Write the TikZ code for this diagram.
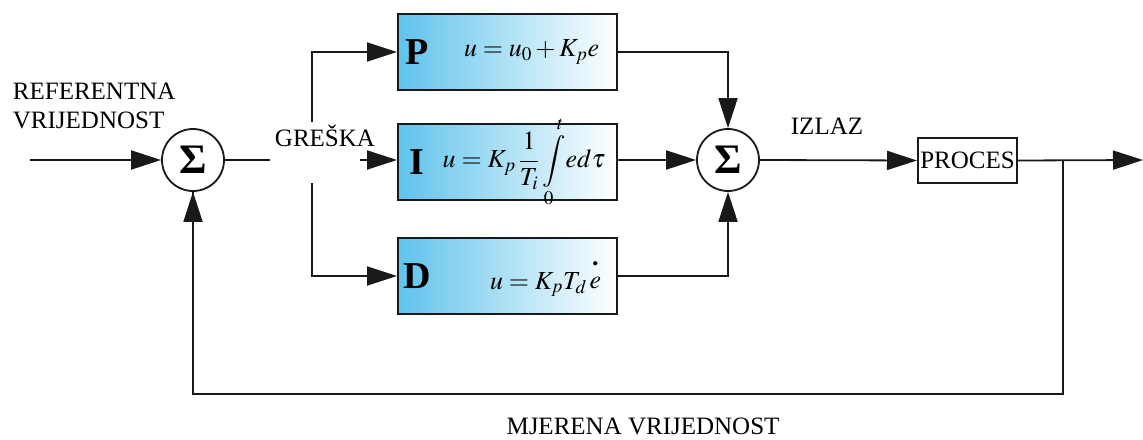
\documentclass[tikz,border=0pt]{standalone}
\usepackage{mathptmx}
\usepackage{fontspec}
\setmainfont{Liberation Serif}
\usetikzlibrary{arrows.meta}
\definecolor{boxblue}{RGB}{95,195,235}
\definecolor{linec}{RGB}{25,25,25}
\begin{document}
\begin{tikzpicture}[x=1pt,y=-1pt,line width=1.8pt,
  arr/.style={-{Triangle[length=30pt,width=19pt]}},
  sumnode/.style={circle,draw=linec,line width=1.8pt,minimum size=62pt,inner sep=0pt,
    font=\fontsize{42}{42}\selectfont\bfseries},
  ctrl/.style={draw=linec,line width=2pt,minimum width=219pt,minimum height=76pt,
    inner sep=0pt,left color=boxblue,right color=white},
  letter/.style={font=\fontsize{38}{40}\selectfont\bfseries,inner sep=0pt,anchor=west},
  formula/.style={font=\fontsize{26}{30}\selectfont,inner sep=0pt,anchor=east},
  lbl/.style={font=\fontsize{25}{30}\selectfont,inner sep=0pt},
  procbox/.style={draw=linec,line width=2pt,minimum width=99pt,minimum height=45pt,inner sep=0pt,
    font=\fontsize{25}{30}\selectfont}]
\useasboundingbox (0,0) rectangle (1143,439);
% nodes
\node[sumnode] (s1) at (193,160) {Σ};
\node[sumnode] (s2) at (728,160) {Σ};
\node[ctrl] (P) at (507.5,52) {};
\node[ctrl] (I) at (507.5,162) {};
\node[ctrl] (D) at (507.5,276) {};
\node[procbox] (proc) at (967.5,160.5) {PROCES};
% box contents
\node[letter] (Pl) at (405,52) {P};
\node[formula] (Pf) at (600,52) {$u = u_0 + K_p e$};
\node[letter] (Il) at (409,162) {I};
\node[formula] (If) at (606,162) {$\displaystyle u = K_p\,\frac{1}{T_i}\int\limits_0^{\,t}\! e d\tau$};
\node[letter] (Dl) at (403,276) {D};
\node[formula] (Df) at (602,278) {$u = K_pT_d\,{\stackrel{\raisebox{6pt}{\textbf{.}}}{e}}$};
% labels
\node[lbl,anchor=west] (ref1) at (12,91) {REFERENTNA};
\node[lbl,anchor=west] (ref2) at (12,120) {VRIJEDNOST};
\node[lbl] (gr) at (325,136) {GREŠKA};
\node[lbl] (iz) at (827,126) {IZLAZ};
\node[lbl,anchor=base] (mj) at (643,434) {MJERENA VRIJEDNOST};
% coordinates
\coordinate (in) at (30,160);
\coordinate (g1) at (270,160);
\coordinate (gt) at (312,122);
\coordinate (gb) at (312,183);
\coordinate (ia) at (360,160);
\coordinate (out) at (1143,160);
\coordinate (br) at (1063,160);
\coordinate (fb) at (1063,394);
% connectors
\begin{scope}[draw=linec]
\draw[arr] (in) -- (s1.west);
\draw (s1.east) -- (g1);
\draw[arr] (gt) |- (P.west);
\draw[arr] (gb) |- (D.west);
\draw[arr] (ia) -- (ia -| I.west);
\draw[arr] (P.east) -| (s2.north);
\draw[arr] (D.east) -| (s2.south);
\draw[arr] (I.east |- s2) -- (s2.west);
\draw[arr] (s2.east) -- (proc.west);
\draw[arr] (proc.east) -- (out);
\draw (br) -- (fb) -| (s1.south);
\draw[arr] (fb -| s1) -- (s1.south);
\end{scope}
\end{tikzpicture}
\end{document}
